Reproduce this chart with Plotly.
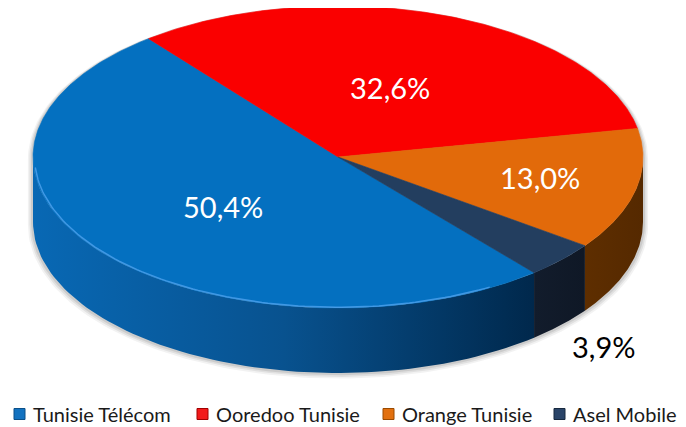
import numpy as np
import plotly.graph_objects as go

# ---------------- data ----------------
labels = ["Tunisie Télécom", "Ooredoo Tunisie", "Orange Tunisie", "Asel Mobile"]
values = [50.4, 32.6, 13.0, 3.9]
value_text = ["50,4%", "32,6%", "13,0%", "3,9%"]

# ---------------- style ----------------
top_colors = ["#0470C0", "#FA0000", "#E26A0A", "#233E5F"]
side_scales = [
    [[0, "#0868B4"], [0.5, "#08528F"], [1, "#00284C"]],
    [[0, "#8A0000"], [1, "#5A0000"]],
    [[0, "#5E2E00"], [1, "#552900"]],
    [[0, "#121C2C"], [1, "#0F1826"]],
]
legend_colors = ["#1272C0", "#F21A1A", "#E2700F", "#2A4468"]
legend_edges = ["#0A4F88", "#A00000", "#9A4A00", "#16283E"]
label_colors = ["white", "white", "white", "black"]
label_r = [0.5, 0.49, 0.675, 1.2]
label_shift = [1.8, 0, 1.2, -0.5]
label_on_bottom = [False, False, False, True]
legend_x = [14, 197, 383, 554]
FONT = "Lato"

W, H = 686, 427
PAD = 8  # page body margin
CX, CY = 338.0, 157.0
RX, RY = 305.0, 151.0
TH = 65.0
START = -50.0  # math angle where first slice begins (slices run clockwise)


def proj(r, ang_deg, bottom=False):
    a = np.radians(ang_deg)
    sx = CX + RX * r * np.cos(a)
    sy = CY - RY * r * np.sin(a) + (TH if bottom else 0.0)
    return sx, sy


total = sum(values)
sweeps = [v / total * 360.0 for v in values]
starts, ends = [], []
cur = START
for s in sweeps:
    starts.append(cur)
    ends.append(cur - s)
    cur -= s

VLO, VHI = -180.0, 0.0

fig = go.Figure()

# soft shadow
a_back = np.linspace(0, 180, 120)
a_front = np.linspace(-180, 0, 120)
xb, yb = proj(1.0, a_back)
xf, yf = proj(1.0, a_front, bottom=True)
xs_s = np.concatenate([xb, xf])
ys_s = np.concatenate([yb, yf])
cxm, cym = CX, CY + TH / 2
for off, alpha in [(5, 0.05), (3.5, 0.07), (2, 0.09)]:
    sc = 1 + off / 300.0
    fig.add_trace(go.Scatter(x=(xs_s - cxm) * sc + cxm, y=(ys_s - cym) * sc + cym + off * 0.5,
                             mode="lines", fill="toself", line=dict(width=0),
                             fillcolor=f"rgba(0,0,0,{alpha})", hoverinfo="skip", showlegend=False))

# walls
for i in range(len(values)):
    lo, hi = ends[i], starts[i]
    for shift in (-360, 0, 360):
        a0 = max(lo + shift, VLO)
        a1 = min(hi + shift, VHI)
        if a1 > a0:
            aa = np.linspace(a0, a1, 80)
            xt, yt = proj(1.0, aa)
            xbb, ybb = proj(1.0, aa[::-1], bottom=True)
            fig.add_trace(go.Scatter(
                x=np.concatenate([xt, xbb]), y=np.concatenate([yt, ybb]),
                mode="lines", fill="toself", line=dict(width=0),
                fillgradient=dict(type="horizontal", colorscale=side_scales[i]),
                hoverinfo="skip", showlegend=False))

# top faces
for i in range(len(values)):
    aa = np.linspace(starts[i], ends[i], max(int(sweeps[i] * 2), 10))
    xa, ya = proj(1.0, aa)
    xs = np.concatenate([[CX], xa, [CX]])
    ys = np.concatenate([[CY], ya, [CY]])
    fig.add_trace(go.Scatter(x=xs, y=ys, mode="lines", fill="toself",
                             line=dict(width=0.6, color=top_colors[i]),
                             fillcolor=top_colors[i], hoverinfo="skip", showlegend=False))

# rim highlight on front edge of blue
aa = np.linspace(-176, -60, 100)
xr, yr = proj(0.995, aa)
fig.add_trace(go.Scatter(x=xr, y=yr, mode="lines", line=dict(width=1.5, color="rgba(90,170,245,0.7)"),
                         hoverinfo="skip", showlegend=False))

annotations = []
for i in range(len(values)):
    mid = (starts[i] + ends[i]) / 2 + label_shift[i]
    lx, ly = proj(label_r[i], mid, bottom=label_on_bottom[i])
    annotations.append(dict(x=float(lx), y=float(ly), text=value_text[i], showarrow=False,
                            xanchor="center", yanchor="middle",
                            font=dict(family=FONT, size=29, color=label_colors[i])))

shapes = []
for i in range(len(labels)):
    x0 = legend_x[i]
    shapes.append(dict(type="rect", x0=x0, x1=x0 + 11, y0=408.5, y1=419.5,
                       fillcolor=legend_colors[i], line=dict(color=legend_edges[i], width=1)))
    annotations.append(dict(x=x0 + 17, y=414, text=labels[i], showarrow=False,
                            xanchor="left", yanchor="middle",
                            font=dict(family=FONT, size=20, color="#1a1a1a")))

fig.update_layout(
    width=W - PAD, height=H - PAD, margin=dict(l=0, r=0, t=0, b=0),
    paper_bgcolor="white", plot_bgcolor="white", showlegend=False,
    xaxis=dict(range=[PAD, W], visible=False, fixedrange=True),
    yaxis=dict(range=[H, PAD], visible=False, fixedrange=True),
    annotations=annotations, shapes=shapes,
)
fig.write_html("out.html")
